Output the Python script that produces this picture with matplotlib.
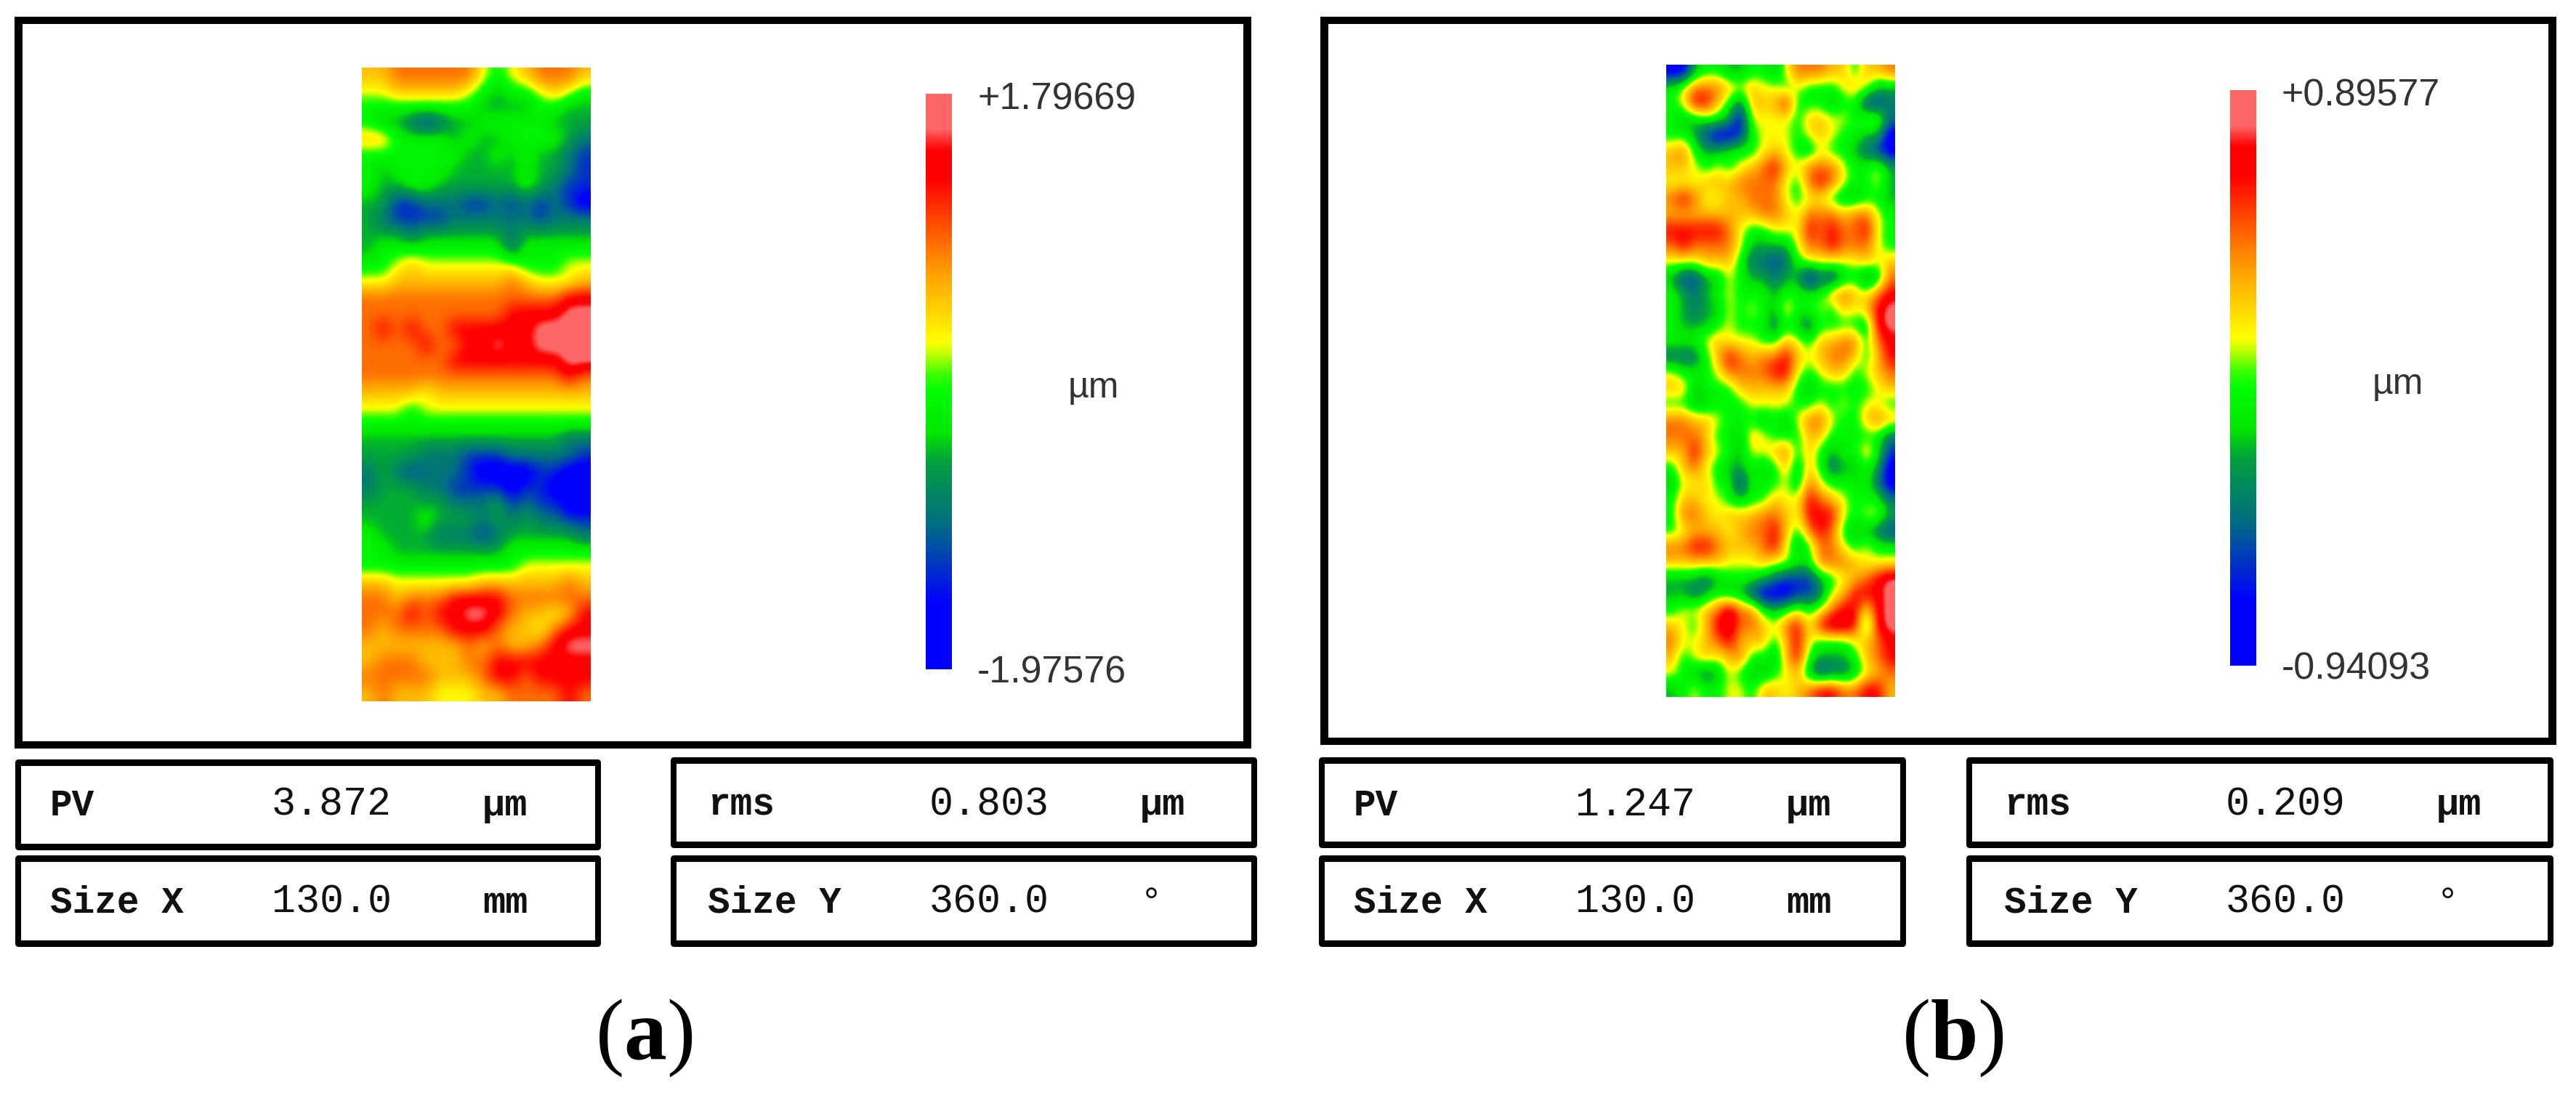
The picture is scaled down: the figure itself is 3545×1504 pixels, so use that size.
import numpy as np
import matplotlib
matplotlib.use("Agg")
import matplotlib.pyplot as plt
from matplotlib.colors import LinearSegmentedColormap
from matplotlib.patches import FancyBboxPatch, Rectangle

W, H, DPI = 3545, 1504, 100
plt.rcParams['mathtext.fontset'] = 'custom'
plt.rcParams['mathtext.bf'] = 'Liberation Serif:bold'
plt.rcParams['mathtext.rm'] = 'Liberation Serif'

# height-map levels: 0 blue ... 4 green ... 6 amber ... 8 red, 9 pink
map_a = [
    [6,6,7,7,7,7,7,7,5,4,5,6,7,7,7,6],
    [5,5,6,6,6,6,6,5,4,3,4,4,5,6,5,4],
    [4,4,4,4,4,4,4,4,3,3,3,3,4,4,3,3],
    [4,3,3,2,1,2,3,3,4,4,4,4,4,3,3,3],
    [6,6,4,4,4,4,3,4,3,3,4,4,4,4,3,2],
    [4,4,4,4,4,4,4,3,3,4,3,4,3,3,2,1],
    [4,3,4,4,4,4,3,3,3,3,3,4,3,3,2,1],
    [4,3,3,4,4,3,3,3,3,3,3,4,3,2,1,1],
    [3,3,1,1,2,2,2,1,1,2,1,2,1,2,1,0],
    [3,2,1,1,1,1,2,2,2,2,2,2,1,2,2,2],
    [3,3,3,2,3,3,3,3,3,3,2,3,3,3,3,3],
    [3,4,4,4,4,4,4,4,4,4,2,4,4,4,4,4],
    [4,4,5,6,5,5,5,5,5,5,5,4,4,4,5,5],
    [5,5,6,6,6,6,6,6,6,6,7,6,5,5,5,6],
    [7,7,7,7,7,7,7,7,7,7,7,7,7,7,8,8],
    [7,7,7,7,7,7,7,7,7,7,8,8,8,8,9,9],
    [7,8,7,8,7,7,8,8,8,8,8,8,9,9,9,9],
    [7,7,7,7,8,7,7,8,8,9,8,8,9,9,9,9],
    [7,7,7,7,7,7,8,8,8,8,8,8,8,8,9,9],
    [7,7,7,7,7,7,7,7,7,7,7,7,7,7,8,7],
    [6,6,6,6,5,6,6,6,6,6,6,6,6,6,6,6],
    [5,5,5,4,5,5,5,5,5,5,5,5,5,5,5,5],
    [4,4,4,4,4,4,4,4,4,4,4,4,4,4,4,4],
    [3,3,3,3,3,3,3,3,3,3,3,3,3,3,2,2],
    [3,3,3,3,2,2,2,1,1,1,2,2,2,2,2,1],
    [2,3,2,1,2,2,2,1,0,0,0,0,1,1,0,0],
    [2,3,3,3,2,2,1,1,1,1,0,1,1,0,0,0],
    [3,3,3,3,3,3,2,2,2,3,1,2,1,1,0,0],
    [3,3,3,3,4,3,3,3,2,3,2,3,2,2,1,1],
    [4,3,3,3,3,2,2,2,1,2,3,3,3,3,3,2],
    [4,4,3,3,3,3,3,3,3,3,4,4,4,4,4,4],
    [4,4,4,4,4,4,4,4,4,4,4,5,5,5,5,5],
    [6,6,5,5,5,5,5,5,6,6,6,6,6,6,7,6],
    [7,7,6,7,7,7,8,8,8,8,7,7,7,7,7,7],
    [7,7,7,8,7,8,8,9,9,8,7,6,6,5,6,8],
    [7,6,7,7,7,7,8,8,8,7,6,6,5,7,8,8],
    [6,6,6,6,6,6,6,7,6,7,6,6,7,8,9,9],
    [6,7,7,7,6,6,6,7,7,8,8,8,8,8,8,8],
    [7,7,7,7,7,6,6,6,7,8,8,7,8,8,8,8],
    [6,7,6,6,6,5,5,5,6,6,7,7,7,7,8,7],
]
map_b = [
    [0,0,3,4,4,3,3,4,4,3,5,7,7,7,6,6,4,6,6,7],
    [4,5,7,7,7,6,5,6,5,5,4,5,4,4,4,5,6,5,3,3],
    [4,5,8,8,6,4,2,6,6,6,8,4,4,4,3,4,4,1,1,2],
    [4,3,3,4,4,3,0,5,5,5,5,4,6,6,5,5,4,5,5,2],
    [4,4,3,1,0,0,1,4,5,5,5,4,5,6,5,4,4,3,3,0],
    [6,7,4,3,3,4,4,4,5,6,5,4,3,5,4,4,3,2,1,0],
    [6,6,5,4,5,4,5,6,7,8,6,5,7,7,7,5,4,4,5,3],
    [5,5,5,6,6,6,7,7,7,7,5,4,7,8,7,5,4,4,5,3],
    [7,8,7,5,5,6,6,7,7,7,5,4,5,5,4,3,3,4,4,3],
    [6,6,6,6,6,6,6,6,7,7,6,5,7,7,7,6,7,7,5,4],
    [8,8,8,8,8,7,5,4,4,5,5,5,8,7,8,7,7,8,5,4],
    [7,8,7,7,7,7,5,3,3,3,3,5,7,7,8,7,7,7,5,4],
    [5,5,5,6,6,6,4,2,2,1,2,4,5,5,5,5,5,6,5,6],
    [3,1,1,3,3,5,4,3,3,2,3,3,0,2,1,3,4,2,3,7],
    [4,3,2,3,4,5,4,4,4,3,4,4,4,4,6,7,6,5,7,8],
    [4,3,2,3,3,5,4,5,4,3,6,4,4,5,4,6,5,6,8,9],
    [4,3,3,3,4,5,4,4,4,2,4,3,2,4,4,4,4,3,8,9],
    [4,4,4,5,6,5,5,5,4,4,6,5,4,6,6,7,7,4,7,8],
    [2,2,2,4,6,8,7,6,7,7,8,6,5,6,7,7,6,4,6,8],
    [5,4,4,4,5,7,7,7,7,8,8,5,4,5,6,6,4,5,6,7],
    [6,6,3,4,4,4,6,6,6,6,6,4,3,4,4,4,4,4,5,6],
    [4,4,3,3,4,4,4,5,5,5,5,4,4,5,4,5,4,5,5,4],
    [7,7,6,6,5,4,4,4,3,4,3,5,7,7,5,4,4,6,7,6],
    [7,7,7,6,4,4,3,6,5,4,4,4,6,6,4,4,4,4,4,2],
    [6,6,8,6,5,4,3,5,5,6,7,4,6,4,3,4,4,6,4,1],
    [4,6,7,5,4,3,3,4,3,4,6,3,6,4,2,3,3,4,3,0],
    [3,5,5,6,4,4,1,4,4,4,5,3,7,5,4,4,4,4,2,0],
    [4,6,6,5,5,4,3,4,4,6,5,5,8,7,6,5,4,4,4,2],
    [4,7,7,6,5,6,6,6,7,7,6,5,8,8,8,5,4,5,5,3],
    [4,5,6,6,6,5,6,7,7,8,6,4,7,8,7,4,3,3,2,1],
    [7,7,8,8,7,6,6,6,7,8,5,3,4,7,7,5,4,5,4,4],
    [6,6,6,6,6,5,5,5,6,5,5,4,4,7,7,7,6,5,5,5],
    [3,3,3,2,3,4,4,4,3,2,1,1,1,3,4,5,6,7,8,9],
    [3,3,2,3,4,3,3,1,0,0,0,1,1,2,5,6,8,8,8,9],
    [4,5,5,6,7,9,7,7,4,3,4,5,4,5,7,8,8,5,8,9],
    [6,5,4,6,8,9,7,7,6,5,7,8,5,8,9,9,8,3,8,9],
    [7,5,5,6,7,8,6,6,6,4,6,8,5,4,4,4,5,6,7,8],
    [6,4,5,6,5,6,7,4,4,3,6,8,4,3,3,3,4,6,7,8],
    [5,4,3,2,3,5,4,3,3,4,5,6,3,1,2,2,3,5,6,7],
    [3,4,5,4,4,5,5,4,6,6,5,6,7,8,8,7,7,8,8,6],
]
level_pos = [0.05, 0.17, 0.27, 0.37, 0.46, 0.57, 0.65, 0.74, 0.87, 0.97]

scale_a = ("+1.79669", "-1.97576")
scale_b = ("+0.89577", "-0.94093")
unit = "µm"
rows_a = [("PV", "3.872", "µm"), ("rms", "0.803", "µm"), ("Size X", "130.0", "mm"), ("Size Y", "360.0", "°")]
rows_b = [("PV", "1.247", "µm"), ("rms", "0.209", "µm"), ("Size X", "130.0", "mm"), ("Size Y", "360.0", "°")]
size_x_mm, size_y_deg = 130.0, 360.0

# colour scale: fractional position along the bar -> colour
cmap = LinearSegmentedColormap.from_list("zygo", [
    (0.00, (0, 0, 1)), (0.114, (0, 0, 1)), (0.25, (0, .43, .51)), (0.36, (0, .63, .24)),
    (0.41, (0, .90, 0)), (0.484, (0, 1, 0)), (0.513, (.24, 1, 0)), (0.55, (.78, 1, 0)),
    (0.57, (1, 1, 0)), (0.70, (1, .59, 0)), (0.854, (1, 0, 0)), (0.904, (1, 0, 0)),
    (0.94, (1, .40, .40)), (1.00, (1, .40, .40))])

fig = plt.figure(figsize=(W / DPI, H / DPI), dpi=DPI, facecolor="white")
px = lambda p: p * 72 / DPI


def px_axes(x0, y0, x1, y1, **kw):
    return fig.add_axes([x0 / W, 1 - y1 / H, (x1 - x0) / W, (y1 - y0) / H], **kw)


page = px_axes(0, 0, W, H)
page.set_xlim(0, W)
page.set_ylim(H, 0)
page.axis("off")


def box(x0, y0, x1, y1, t_h, t_v, round_it=True):
    """Black frame with horizontal rules t_h thick and vertical rules t_v thick."""
    if round_it:
        page.add_patch(FancyBboxPatch((x0 + 4, y0 + 4), x1 - x0 - 8, y1 - y0 - 8,
                                      boxstyle="round,pad=4,rounding_size=5", fc="black", ec="none"))
    else:
        page.add_patch(Rectangle((x0, y0), x1 - x0, y1 - y0, fc="black", ec="none"))
    page.add_patch(Rectangle((x0 + t_v, y0 + t_h), x1 - x0 - 2 * t_v, y1 - y0 - 2 * t_h, fc="white", ec="none"))


def heat(levels, rect):
    ax = px_axes(*rect)
    data = np.interp(np.array(levels, float), np.arange(10), level_pos)
    ax.imshow(data, cmap=cmap, vmin=0, vmax=1, aspect="auto", interpolation="bicubic",
              interpolation_stage="data", extent=[0, size_x_mm, size_y_deg, 0])
    ax.axis("off")


def colorbar(rect):
    ax = px_axes(*rect)
    ax.imshow(np.linspace(1, 0, 512)[:, None], cmap=cmap, vmin=0, vmax=1, aspect="auto",
              interpolation="bilinear")
    ax.axis("off")


def panel(dx, frame, map_levels, map_rect, bar_rect, scale, rows, left, right, row_y,
          label_txt, label_x, dx2):
    box(*frame, 10, 11, round_it=False)
    heat(map_levels, map_rect)
    colorbar(bar_rect)
    tx = bar_rect[0] + 71
    page.text(tx, bar_rect[1] + 8, scale[0], family="Liberation Sans", fontsize=px(52),
              color="#333333", ha="left", va="center")
    page.text(tx, bar_rect[3] + 5, scale[1], family="Liberation Sans", fontsize=px(52),
              color="#333333", ha="left", va="center")
    page.text(bar_rect[0] + 196, bar_rect[1] + 405, unit, family="Liberation Sans", fontsize=px(50),
              color="#333333", ha="left", va="center")
    # readout boxes
    box(left[0], row_y[0][0], left[1], row_y[0][1], 9, 8)
    box(left[0], row_y[1][0], left[1], row_y[1][1], 9, 8)
    box(right[0], row_y[2][0], right[1], row_y[2][1], 9, 8)
    box(right[0], row_y[1][0], right[1], row_y[1][1], 9, 8)
    cells = [(rows[0], 69 + dx, 1122), (rows[1], 974 + dx2, 1121), (rows[2], 69 + dx, 1256), (rows[3], 974 + dx2, 1256)]
    for (name, val, un), x, y in cells:
        page.text(x, y, name, family="Liberation Mono", weight="bold", fontsize=px(51), color="#111111",
                  ha="left", va="baseline")
        page.text(x + 305, y, val, family="Liberation Mono", fontsize=px(55), color="#111111",
                  ha="left", va="baseline")
        page.text(x + 595, y, un, family="Liberation Mono", fontsize=px(52), color="#111111",
                  ha="left", va="baseline", weight="bold" if un != "°" else "normal")
    page.text(label_x, 1457, label_txt, family="Liberation Serif", fontsize=px(118), color="black",
              ha="center", va="baseline")


panel(0, (20, 23, 1722, 1030), map_a, (498, 93, 813, 965), (1274, 129, 1310, 921), scale_a, rows_a,
      (21, 827), (923, 1730), [(1045, 1170), (1177, 1303), (1042, 1167)], r"($\mathbf{a}$)", 886, 0)
panel(1794, (1817, 23, 3518, 1025), map_b, (2293, 89, 2608, 959), (3069, 124, 3105, 916), scale_b, rows_b,
      (1815, 2623), (2706, 3514), [(1042, 1167), (1177, 1303), (1042, 1167)], r"($\mathbf{b}$)", 2688, 1784)

fig.savefig("out.png", dpi=DPI, facecolor="white")
